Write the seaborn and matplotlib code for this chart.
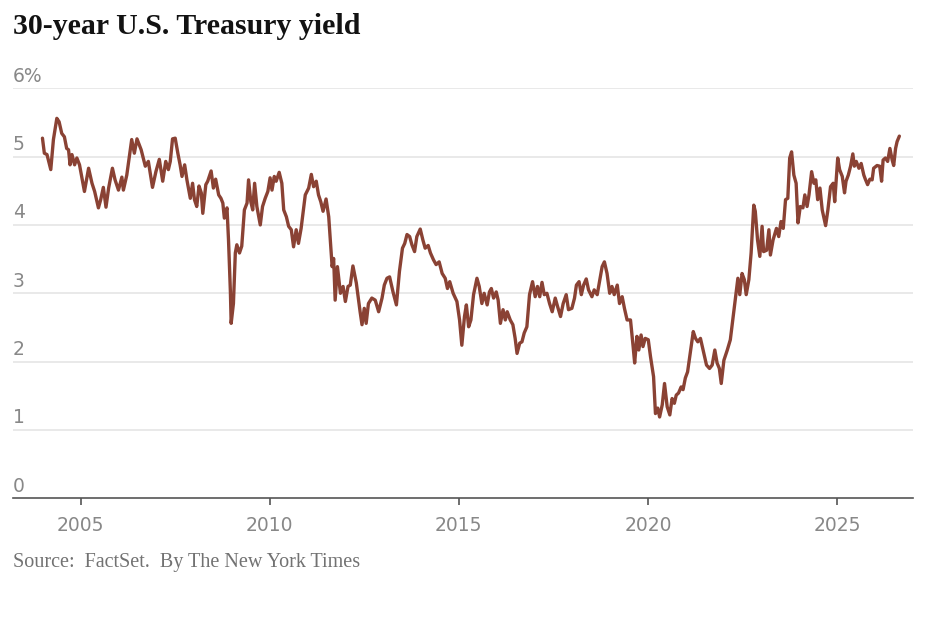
import numpy as np
import pandas as pd
import matplotlib
matplotlib.use("Agg")
import matplotlib.pyplot as plt
import matplotlib.transforms as mtransforms
import seaborn as sns

# decimal year / yield (%)
year = [
    2003.99, 2004.04, 2004.11, 2004.21, 2004.28, 2004.37, 2004.43, 2004.50, 2004.57, 2004.63,
    2004.68, 2004.72, 2004.77, 2004.84, 2004.90, 2004.97, 2005.10, 2005.21, 2005.30, 2005.37,
    2005.47, 2005.53, 2005.60, 2005.67, 2005.74, 2005.84, 2005.91, 2006.00, 2006.09, 2006.13,
    2006.22, 2006.35, 2006.42, 2006.49, 2006.60, 2006.71, 2006.79, 2006.90, 2006.99, 2007.08,
    2007.17, 2007.25, 2007.32, 2007.37, 2007.43, 2007.50, 2007.57, 2007.63, 2007.68, 2007.75,
    2007.81, 2007.90, 2007.96, 2008.01, 2008.07, 2008.13, 2008.19, 2008.23, 2008.31, 2008.36,
    2008.45, 2008.51, 2008.57, 2008.65, 2008.71, 2008.76, 2008.80, 2008.87, 2008.91, 2008.96,
    2008.98, 2009.04, 2009.09, 2009.13, 2009.20, 2009.26, 2009.33, 2009.40, 2009.44, 2009.50,
    2009.55, 2009.60, 2009.66, 2009.75, 2009.81, 2009.88, 2009.95, 2010.01, 2010.06, 2010.12,
    2010.17, 2010.25, 2010.32, 2010.37, 2010.44, 2010.50, 2010.57, 2010.63, 2010.70, 2010.76,
    2010.83, 2010.88, 2010.94, 2011.03, 2011.10, 2011.16, 2011.23, 2011.29, 2011.35, 2011.41,
    2011.49, 2011.56, 2011.65, 2011.69, 2011.73, 2011.79, 2011.87, 2011.94, 2012.00, 2012.07,
    2012.13, 2012.20, 2012.29, 2012.39, 2012.44, 2012.50, 2012.55, 2012.61, 2012.70, 2012.79,
    2012.88, 2012.97, 2013.03, 2013.10, 2013.17, 2013.26, 2013.35, 2013.43, 2013.51, 2013.57,
    2013.63, 2013.70, 2013.76, 2013.83, 2013.89, 2013.98, 2014.05, 2014.11, 2014.19, 2014.25,
    2014.33, 2014.40, 2014.48, 2014.56, 2014.64, 2014.70, 2014.76, 2014.85, 2014.95, 2015.02,
    2015.08, 2015.15, 2015.20, 2015.26, 2015.32, 2015.39, 2015.48, 2015.54, 2015.61, 2015.67,
    2015.75, 2015.81, 2015.86, 2015.92, 2015.99, 2016.04, 2016.10, 2016.17, 2016.23, 2016.28,
    2016.36, 2016.43, 2016.49, 2016.54, 2016.61, 2016.67, 2016.73, 2016.80, 2016.87, 2016.95,
    2017.02, 2017.08, 2017.14, 2017.20, 2017.26, 2017.33, 2017.40, 2017.47, 2017.55, 2017.61,
    2017.69, 2017.76, 2017.84, 2017.90, 2017.99, 2018.06, 2018.11, 2018.18, 2018.24, 2018.30,
    2018.37, 2018.43, 2018.52, 2018.58, 2018.66, 2018.72, 2018.79, 2018.85, 2018.92, 2018.99,
    2019.05, 2019.11, 2019.19, 2019.25, 2019.32, 2019.38, 2019.45, 2019.54, 2019.61, 2019.65,
    2019.71, 2019.76, 2019.82, 2019.87, 2019.93, 2020.01, 2020.07, 2020.15, 2020.20, 2020.26,
    2020.31, 2020.38, 2020.44, 2020.51, 2020.58, 2020.64, 2020.70, 2020.75, 2020.81, 2020.88,
    2020.93, 2020.99, 2021.05, 2021.12, 2021.20, 2021.26, 2021.32, 2021.39, 2021.46, 2021.55,
    2021.63, 2021.70, 2021.77, 2021.83, 2021.89, 2021.94, 2022.01, 2022.10, 2022.18, 2022.24,
    2022.32, 2022.38, 2022.43, 2022.49, 2022.55, 2022.60, 2022.67, 2022.73, 2022.80, 2022.84,
    2022.90, 2022.96, 2023.02, 2023.06, 2023.14, 2023.20, 2023.24, 2023.31, 2023.40, 2023.46,
    2023.52, 2023.58, 2023.64, 2023.70, 2023.75, 2023.80, 2023.86, 2023.92, 2023.97, 2024.03,
    2024.10, 2024.15, 2024.21, 2024.26, 2024.33, 2024.39, 2024.44, 2024.49, 2024.55, 2024.61,
    2024.65, 2024.70, 2024.76, 2024.83, 2024.90, 2024.94, 2025.02, 2025.07, 2025.14, 2025.20,
    2025.24, 2025.30, 2025.36, 2025.42, 2025.46, 2025.51, 2025.58, 2025.64, 2025.71, 2025.75,
    2025.81, 2025.87, 2025.93, 2025.97, 2026.06, 2026.13, 2026.18, 2026.22, 2026.28, 2026.34,
    2026.40, 2026.46, 2026.50, 2026.55, 2026.59, 2026.65,
]
yld = [
    5.27, 5.05, 5.03, 4.81, 5.25, 5.56, 5.51, 5.34, 5.29, 5.12,
    5.10, 4.88, 5.03, 4.88, 4.98, 4.88, 4.49, 4.83, 4.61, 4.49,
    4.25, 4.37, 4.55, 4.26, 4.54, 4.83, 4.66, 4.51, 4.70, 4.51,
    4.73, 5.25, 5.05, 5.26, 5.10, 4.86, 4.93, 4.55, 4.78, 4.96,
    4.64, 4.93, 4.81, 4.93, 5.26, 5.27, 5.05, 4.88, 4.71, 4.88,
    4.66, 4.39, 4.61, 4.37, 4.27, 4.57, 4.47, 4.17, 4.59, 4.64,
    4.79, 4.54, 4.67, 4.44, 4.39, 4.32, 4.10, 4.25, 3.78, 3.02,
    2.56, 2.85, 3.59, 3.71, 3.59, 3.69, 4.22, 4.32, 4.66, 4.34,
    4.22, 4.61, 4.27, 4.00, 4.27, 4.39, 4.49, 4.69, 4.51, 4.71,
    4.64, 4.77, 4.61, 4.22, 4.12, 3.98, 3.93, 3.68, 3.93, 3.73,
    3.95, 4.17, 4.44, 4.54, 4.74, 4.56, 4.64, 4.44, 4.34, 4.20,
    4.38, 4.12, 3.39, 3.51, 2.90, 3.39, 3.00, 3.10, 2.88, 3.10,
    3.12, 3.40, 3.15, 2.73, 2.54, 2.78, 2.56, 2.85, 2.93, 2.90,
    2.73, 2.93, 3.12, 3.22, 3.24, 3.02, 2.83, 3.32, 3.66, 3.73,
    3.86, 3.83, 3.71, 3.61, 3.83, 3.94, 3.78, 3.66, 3.70, 3.59,
    3.49, 3.42, 3.46, 3.29, 3.22, 3.07, 3.17, 3.00, 2.88, 2.61,
    2.24, 2.66, 2.83, 2.51, 2.61, 2.98, 3.22, 3.10, 2.85, 3.00,
    2.83, 3.02, 3.07, 2.93, 3.02, 2.90, 2.56, 2.76, 2.61, 2.73,
    2.61, 2.54, 2.34, 2.12, 2.27, 2.29, 2.42, 2.51, 2.98, 3.17,
    2.95, 3.10, 2.95, 3.16, 2.98, 3.00, 2.85, 2.73, 2.93, 2.81,
    2.66, 2.85, 2.98, 2.76, 2.78, 2.93, 3.12, 3.17, 2.98, 3.12,
    3.21, 3.05, 2.95, 3.05, 2.98, 3.17, 3.39, 3.46, 3.29, 3.00,
    3.10, 2.98, 3.12, 2.85, 2.95, 2.78, 2.61, 2.61, 2.22, 1.98,
    2.37, 2.17, 2.39, 2.22, 2.34, 2.32, 2.07, 1.78, 1.24, 1.32,
    1.19, 1.37, 1.68, 1.34, 1.22, 1.46, 1.39, 1.51, 1.54, 1.63,
    1.59, 1.76, 1.85, 2.12, 2.44, 2.34, 2.29, 2.34, 2.17, 1.95,
    1.90, 1.95, 2.17, 1.98, 1.90, 1.68, 2.02, 2.17, 2.32, 2.59,
    2.95, 3.22, 2.98, 3.29, 3.20, 2.98, 3.20, 3.59, 4.29, 4.20,
    3.78, 3.54, 3.98, 3.61, 3.63, 3.93, 3.56, 3.78, 3.95, 3.83,
    4.05, 3.95, 4.37, 4.39, 4.98, 5.07, 4.73, 4.61, 4.03, 4.27,
    4.25, 4.44, 4.27, 4.44, 4.78, 4.61, 4.66, 4.37, 4.54, 4.22,
    4.12, 3.99, 4.22, 4.56, 4.61, 4.34, 4.98, 4.81, 4.71, 4.47,
    4.64, 4.73, 4.86, 5.04, 4.86, 4.93, 4.83, 4.90, 4.73, 4.67,
    4.59, 4.67, 4.66, 4.83, 4.87, 4.86, 4.64, 4.95, 4.98, 4.93,
    5.12, 4.95, 4.87, 5.12, 5.22, 5.30,
]

x_ticks = [2005, 2010, 2015, 2020, 2025]
y_ticks = [0, 1, 2, 3, 4, 5, 6]
y_labels = ["0", "1", "2", "3", "4", "5", "6%"]

df = pd.DataFrame({"year": year, "yield": yld})

sns.set_theme(style="white")
plt.rcParams["font.family"] = ["DejaVu Sans"]

fig = plt.figure(figsize=(9.53, 6.2), dpi=100)
ax = fig.add_axes([0.0136, 0.1963, 0.9444, 0.6613])

sns.lineplot(data=df, x="year", y="yield", ax=ax, color="#8a4234",
             linewidth=2.4, estimator=None, sort=False)

ax.set_xlim(2003.21, 2027.01)
ax.set_ylim(0, 6)

# horizontal gridlines
for v in y_ticks[1:]:
    ax.axhline(v, color="#e3e3e3", linewidth=1.1, zorder=0)

# y labels sit above their gridline, left aligned
trans = mtransforms.blended_transform_factory(ax.transAxes, ax.transData)
for v, lab in zip(y_ticks, y_labels):
    ax.text(0.0, v + 0.095, lab, transform=trans, ha="left", va="baseline",
            fontsize=13.5, color="#888888")

ax.set_yticks([])
ax.set_xticks(x_ticks)
ax.set_xticklabels([str(t) for t in x_ticks], fontsize=13.5, color="#888888")
ax.tick_params(axis="x", length=5, width=1.2, color="#555555", pad=8, bottom=True)
ax.set_xlabel("")
ax.set_ylabel("")

for s in ["top", "right", "left"]:
    ax.spines[s].set_visible(False)
ax.spines["bottom"].set_color("#555555")
ax.spines["bottom"].set_linewidth(1.2)

fig.text(0.0136, 1 - 27 / 620, "30-year U.S. Treasury yield", ha="left", va="center",
         fontsize=21.5, fontweight="bold", family=["Liberation Serif", "DejaVu Serif"],
         color="#121212")
fig.text(0.0136, 1 - 562 / 620, "Source:  FactSet.  By The New York Times", ha="left",
         va="center", fontsize=14.5, family=["Liberation Serif", "DejaVu Serif"],
         color="#727272")

plt.savefig("out.png", dpi=100)
